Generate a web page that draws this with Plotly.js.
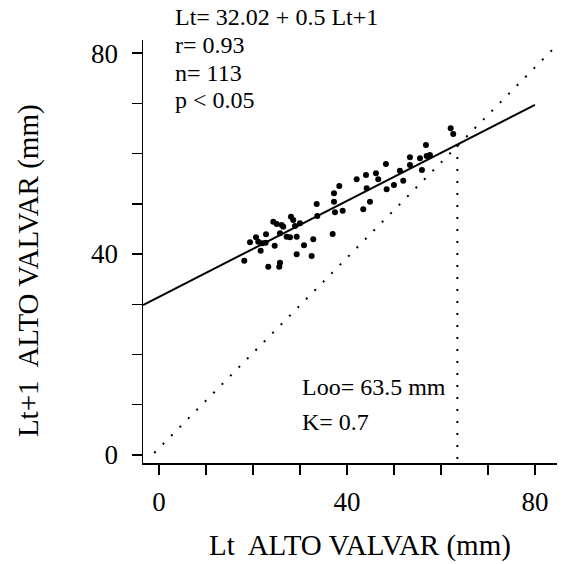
<!DOCTYPE html>
<html>
<head>
<meta charset="utf-8">
<script src="https://cdn.plot.ly/plotly-3.0.1.min.js"></script>
<style>html,body{margin:0;padding:0;background:#fff;}#chart{width:563px;height:564px;}</style>
</head>
<body>
<div id="chart"></div>
<script>
// Observed points: Lt (x) and Lt+1 (y), alto valvar in mm
const ltValues = [18.15, 19.37, 20.64, 21.13, 21.64, 21.98, 22.77, 22.7, 23.26, 24.62,
  24.32, 25.05, 25.75, 26.11, 25.75, 25.6, 26.45, 27.88, 28.09, 28.58,
  28.94, 29.3, 29.3, 30.0, 30.86, 32.49, 32.83, 33.56, 33.69, 36.96,
  37.24, 37.45, 39.09, 37.24, 38.37, 42.07, 43.47, 44.05, 44.2, 44.9,
  46.17, 46.66, 48.3, 48.45, 50.0, 51.28, 51.98, 53.41, 53.41, 55.54,
  55.96, 56.81, 56.96, 57.66, 62.07, 62.62, 27.17];
const lt1Values = [38.67, 42.33, 43.33, 42.45, 40.66, 42.13, 43.93, 42.25, 37.48, 41.66,
  46.43, 45.98, 44.12, 45.78, 38.27, 37.48, 45.44, 43.33, 47.43, 46.77,
  45.58, 43.45, 39.94, 46.12, 41.74, 39.61, 42.93, 49.96, 47.57, 43.99,
  50.41, 48.3, 48.62, 52.09, 53.54, 54.87, 48.9, 55.73, 53.08, 50.41,
  56.07, 54.87, 57.92, 52.88, 53.74, 56.58, 54.59, 59.25, 57.72, 59.05,
  56.72, 61.7, 59.51, 59.71, 65.02, 63.89, 43.45];

// Regression line (Ford-Walford), end points
const regX = [-3.4, 80];
const regY = [29.85, 69.7];

// Dotted reference line Lt = Lt+1
const diagX = [-1, 84.7];
const diagY = [0.4, 81.6];

// Dotted vertical line at Loo
const looX = [63.5, 63.5];
const looY = [61.7, -1.6];

// Axis ticks
const tickValues = [0, 10, 20, 30, 40, 50, 60, 70, 80];
const tickLabels = ["0", "", "", "", "40", "", "", "", "80"];

// Texts
const statLines = ["Lt= 32.02 + 0.5 Lt+1", "r= 0.93", "n= 113", "p < 0.05"];
const paramLines = ["Loo= 63.5 mm", "K= 0.7"];
const xTitle = "Lt  ALTO VALVAR (mm)";
const yTitle = "Lt+1  ALTO VALVAR (mm)";

const FONT = "'Liberation Serif', 'Times New Roman', Times, serif";

const traces = [
  {x: diagX, y: diagY, mode: "lines", line: {color: "#000", width: 2, dash: "2px,10px"}, hoverinfo: "skip", showlegend: false},
  {x: looX, y: looY, mode: "lines", line: {color: "#000", width: 2, dash: "2px,10px"}, hoverinfo: "skip", showlegend: false},
  {x: regX, y: regY, mode: "lines", line: {color: "#000", width: 2}, showlegend: false},
  {x: ltValues, y: lt1Values, mode: "markers", marker: {color: "#000", size: 6}, showlegend: false}
];

const axisCommon = {
  showgrid: false, zeroline: false, showline: true, linecolor: "#000", linewidth: 1.5,
  ticks: "outside", ticklen: 10, tickwidth: 1.5, tickcolor: "#000",
  tickmode: "array", tickvals: tickValues, ticktext: tickLabels,
  tickfont: {family: FONT, size: 27, color: "#000"}
};

const annotations = [];
const statY = [1.054, 0.988, 0.922, 0.858];
statLines.forEach((t, i) => annotations.push({
  text: t, xref: "paper", yref: "paper", x: 0.0725, y: statY[i],
  xanchor: "left", yanchor: "middle", showarrow: false,
  font: {family: FONT, size: 24, color: "#000"}
}));
const paramY = [0.18, 0.097];
paramLines.forEach((t, i) => annotations.push({
  text: t, xref: "paper", yref: "paper", x: 0.38, y: paramY[i],
  xanchor: "left", yanchor: "middle", showarrow: false,
  font: {family: FONT, size: 24, color: "#000"}
}));
annotations.push({
  text: xTitle, xref: "paper", yref: "paper", x: 0.524, y: -0.194,
  xanchor: "center", yanchor: "middle", showarrow: false,
  font: {family: FONT, size: 29, color: "#000"}
});
annotations.push({
  text: yTitle, xref: "paper", yref: "paper", x: -0.275, y: 0.454, textangle: -90,
  xanchor: "center", yanchor: "middle", showarrow: false,
  font: {family: FONT, size: 29, color: "#000"}
});

const layout = {
  width: 563, height: 564,
  margin: {l: 143, r: 6, t: 40, b: 101},
  paper_bgcolor: "#fff", plot_bgcolor: "#fff",
  font: {family: FONT, color: "#000"},
  xaxis: Object.assign({}, axisCommon, {range: [-3.4, 84.7], ticklabelstandoff: 4}),
  yaxis: Object.assign({}, axisCommon, {range: [-1.6, 82.6], ticklabelstandoff: 8}),
  annotations: annotations,
  showlegend: false
};

Plotly.newPlot("chart", traces, layout, {displayModeBar: false, staticPlot: true});
</script>
</body>
</html>
